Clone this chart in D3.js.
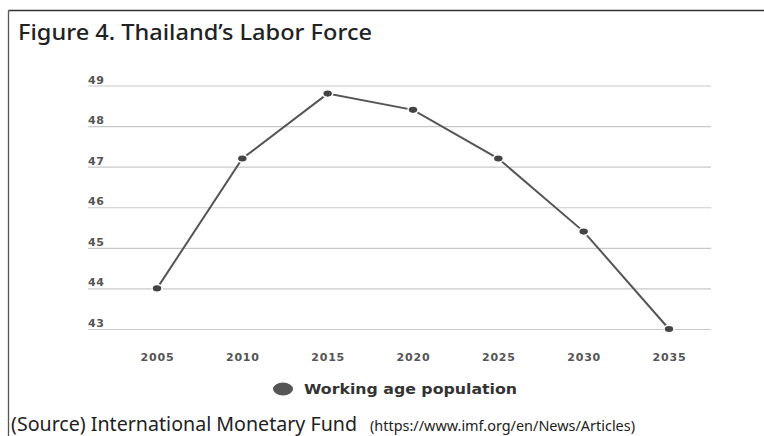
<!DOCTYPE html>
<html>
<head>
<meta charset="utf-8">
<script src="https://cdn.jsdelivr.net/npm/d3@7"></script>
<style>
  body { margin: 0; background: #fff; }
</style>
</head>
<body>
<svg id="chart" width="764" height="436" font-family="'Noto Sans', 'Open Sans', sans-serif"></svg>
<script>
var years = [2005, 2010, 2015, 2020, 2025, 2030, 2035];
var workingAge = [44.0, 47.2, 48.8, 48.4, 47.2, 45.4, 43.0];
var yTicks = [43, 44, 45, 46, 47, 48, 49];

var svg = d3.select("svg#chart");

// frame: left and top rules
svg.append("line")
    .attr("x1", 8.5).attr("y1", 10.5).attr("x2", 764).attr("y2", 10.5)
    .attr("stroke", "#333").attr("stroke-width", 1.3);
svg.append("line")
    .attr("x1", 8.5).attr("y1", 10.5).attr("x2", 8.5).attr("y2", 436)
    .attr("stroke", "#555").attr("stroke-width", 1.3);

svg.append("text")
    .attr("x", 18).attr("y", 40)
    .attr("font-size", 22).attr("font-weight", 500)
    .attr("fill", "#222")
    .attr("textLength", 354).attr("lengthAdjust", "spacingAndGlyphs")
    .text("Figure 4. Thailand\u2019s Labor Force");

var x = d3.scalePoint()
    .domain(years)
    .range([157, 669]);

var y = d3.scaleLinear()
    .domain([43, 49])
    .range([329, 85.5]);

var grid = svg.append("g").attr("class", "grid");
grid.selectAll("line")
    .data(yTicks)
    .enter().append("line")
    .attr("x1", 88).attr("x2", 711)
    .attr("y1", function(d) { return y(d) + 0.5; })
    .attr("y2", function(d) { return y(d) + 0.5; })
    .attr("stroke", "#c8c8c8").attr("stroke-width", 1.2);

grid.selectAll("text")
    .data(yTicks)
    .enter().append("text")
    .attr("x", 88)
    .attr("y", function(d) { return y(d) - 2; })
    .attr("font-family", "'DejaVu Sans', sans-serif")
    .attr("font-size", 11).attr("font-weight", 700)
    .attr("letter-spacing", 0.5)
    .attr("fill", "#555")
    .text(function(d) { return d; });

var xAxis = d3.axisBottom(x).tickSize(0).tickPadding(0);
var gx = svg.append("g")
    .attr("transform", "translate(0,353)")
    .call(xAxis);
gx.attr("font-family", "'DejaVu Sans', sans-serif").attr("font-size", 11);
gx.select(".domain").remove();
gx.selectAll("text")
    .attr("font-weight", 700)
    .attr("letter-spacing", 0.8)
    .attr("fill", "#555");

var line = d3.line()
    .x(function(d, i) { return x(years[i]); })
    .y(function(d) { return y(d); });

svg.append("path")
    .datum(workingAge)
    .attr("d", line)
    .attr("fill", "none")
    .attr("stroke", "#555")
    .attr("stroke-width", 2);

svg.append("g")
    .selectAll("ellipse")
    .data(workingAge)
    .enter().append("ellipse")
    .attr("cx", function(d, i) { return x(years[i]); })
    .attr("cy", function(d) { return y(d); })
    .attr("rx", 5).attr("ry", 3.8)
    .attr("fill", "#444")
    .attr("stroke", "#fff").attr("stroke-width", 1.5);

// legend
svg.append("ellipse")
    .attr("cx", 283).attr("cy", 389)
    .attr("rx", 10).attr("ry", 6.5)
    .attr("fill", "#555");
svg.append("text")
    .attr("x", 304).attr("y", 394)
    .attr("font-family", "'DejaVu Sans', sans-serif")
    .attr("font-size", 14).attr("font-weight", 700)
    .attr("fill", "#333")
    .attr("textLength", 213).attr("lengthAdjust", "spacingAndGlyphs")
    .text("Working age population");

// source
svg.append("text")
    .attr("x", 11).attr("y", 431)
    .attr("font-size", 19.5)
    .attr("fill", "#222")
    .attr("textLength", 346).attr("lengthAdjust", "spacingAndGlyphs")
    .text("(Source) International Monetary Fund");
svg.append("text")
    .attr("x", 370).attr("y", 431)
    .attr("font-size", 13.5)
    .attr("fill", "#222")
    .attr("textLength", 265).attr("lengthAdjust", "spacingAndGlyphs")
    .text("(https://www.imf.org/en/News/Articles)");
</script>
</body>
</html>
